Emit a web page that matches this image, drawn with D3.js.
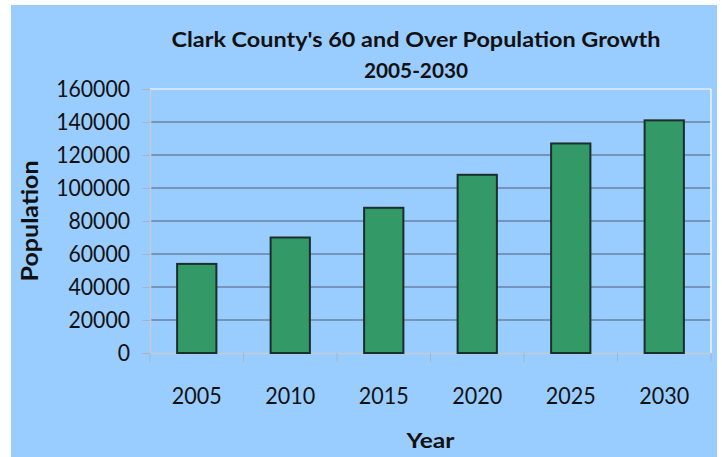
<!DOCTYPE html>
<html>
<head>
<meta charset="utf-8">
<script src="https://cdn.jsdelivr.net/npm/d3@7"></script>
<style>
    body { margin: 0; background: #ffffff; }
    svg text { font-family: Lato, "Open Sans", sans-serif; fill: #111; }
</style>
</head>
<body>
<svg id="chart"></svg>
<script>
// data
var years = ["2005", "2010", "2015", "2020", "2025", "2030"]
var population = [54000, 70000, 88000, 108000, 127000, 141000]
var yTicks = [0, 20000, 40000, 60000, 80000, 100000, 120000, 140000, 160000]

const width = 722;
const height = 457;
const plot = { left: 150, right: 711, top: 89, bottom: 353 };

var svg = d3.select('svg#chart').attr('width', width).attr('height', height)

// chart area background
svg.append("rect")
    .attr("x", 11)
    .attr("y", 5)
    .attr("width", 706)
    .attr("height", height - 5)
    .attr("fill", "#99ccff")

var x = d3.scaleBand()
    .domain(years)
    .range([plot.left, plot.right])
    .padding(0)

var y = d3.scaleLinear()
    .domain([0, 160000])
    .range([plot.bottom, plot.top])

// gridlines
svg.append("g")
    .selectAll("line")
    .data(yTicks.filter(d => d > 0 && d < 160000))
    .enter().append("line")
    .attr("x1", plot.left)
    .attr("x2", plot.right)
    .attr("y1", d => y(d))
    .attr("y2", d => y(d))
    .attr("stroke", "#6a82a4")
    .attr("stroke-width", 1.6)

// plot border
svg.append("line")
    .attr("x1", plot.left).attr("x2", plot.right)
    .attr("y1", plot.top).attr("y2", plot.top)
    .attr("stroke", "#e4eef8").attr("stroke-width", 1.5)
svg.append("line")
    .attr("x1", plot.right).attr("x2", plot.right)
    .attr("y1", plot.top).attr("y2", plot.bottom)
    .attr("stroke", "#eef4fb").attr("stroke-width", 1.5)

// y axis
var yAxis = svg.append("g")
    .attr("transform", "translate(" + plot.left + ",0)")
    .call(d3.axisLeft(y).tickValues(yTicks).tickSize(8).tickPadding(12).tickSizeOuter(0).tickFormat(d3.format("d")))
yAxis.select(".domain").attr("stroke", "#c4ccd4").attr("stroke-width", 1.5)
yAxis.selectAll(".tick line").attr("stroke", "#a8b4c0")
yAxis.selectAll(".tick text")
    .style("font-size", "23px")
    .attr("fill", "#111")
    .attr("textLength", function(d) { return String(d).length * 12.3 })
    .attr("lengthAdjust", "spacingAndGlyphs")

// x axis, ticks between categories
var xAxis = svg.append("g")
    .attr("transform", "translate(0," + plot.bottom + ")")
    .call(d3.axisBottom(x).tickSize(0).tickPadding(34).tickSizeOuter(0))
xAxis.select(".domain").attr("stroke", "#c4ccd4").attr("stroke-width", 1.5)
xAxis.selectAll(".tick text")
    .style("font-size", "24px")
    .attr("fill", "#111")
    .attr("textLength", 50)
    .attr("lengthAdjust", "spacingAndGlyphs")

svg.append("g")
    .selectAll("line")
    .data(years.concat(["end"]))
    .enter().append("line")
    .attr("x1", (d, i) => plot.left + i * x.step())
    .attr("x2", (d, i) => plot.left + i * x.step())
    .attr("y1", plot.bottom)
    .attr("y2", plot.bottom + 9)
    .attr("stroke", "#a8b4c0")

// bars
var barW = x.bandwidth() * 0.42
svg.append("g")
    .selectAll("rect")
    .data(years.map((yr, i) => ({ year: yr, value: population[i] })))
    .enter().append("rect")
    .attr("x", d => x(d.year) + (x.bandwidth() - barW) / 2)
    .attr("y", d => y(d.value))
    .attr("width", barW)
    .attr("height", d => plot.bottom - y(d.value))
    .attr("fill", "#339966")
    .attr("stroke", "#1c2e2a")
    .attr("stroke-width", 2)

// titles
svg.append("text")
    .attr("text-anchor", "middle")
    .attr("x", 416)
    .attr("y", 47)
    .style("font-size", "21.5px")
    .style("font-weight", "bold")
    .attr("textLength", 489)
    .attr("lengthAdjust", "spacingAndGlyphs")
    .text("Clark County's 60 and Over Population Growth")

svg.append("text")
    .attr("text-anchor", "middle")
    .attr("x", 416)
    .attr("y", 78)
    .style("font-size", "21.5px")
    .style("font-weight", "bold")
    .attr("textLength", 104)
    .attr("lengthAdjust", "spacingAndGlyphs")
    .text("2005-2030")

svg.append("text")
    .attr("text-anchor", "middle")
    .attr("transform", "translate(38," + ((plot.top + plot.bottom) / 2) + ") rotate(-90)")
    .style("font-size", "22px")
    .style("font-weight", "bold")
    .attr("textLength", 121)
    .attr("lengthAdjust", "spacingAndGlyphs")
    .text("Population")

svg.append("text")
    .attr("text-anchor", "middle")
    .attr("x", (plot.left + plot.right) / 2)
    .attr("y", 448)
    .style("font-size", "21px")
    .style("font-weight", "bold")
    .attr("textLength", 48)
    .attr("lengthAdjust", "spacingAndGlyphs")
    .text("Year")
</script>
</body>
</html>
